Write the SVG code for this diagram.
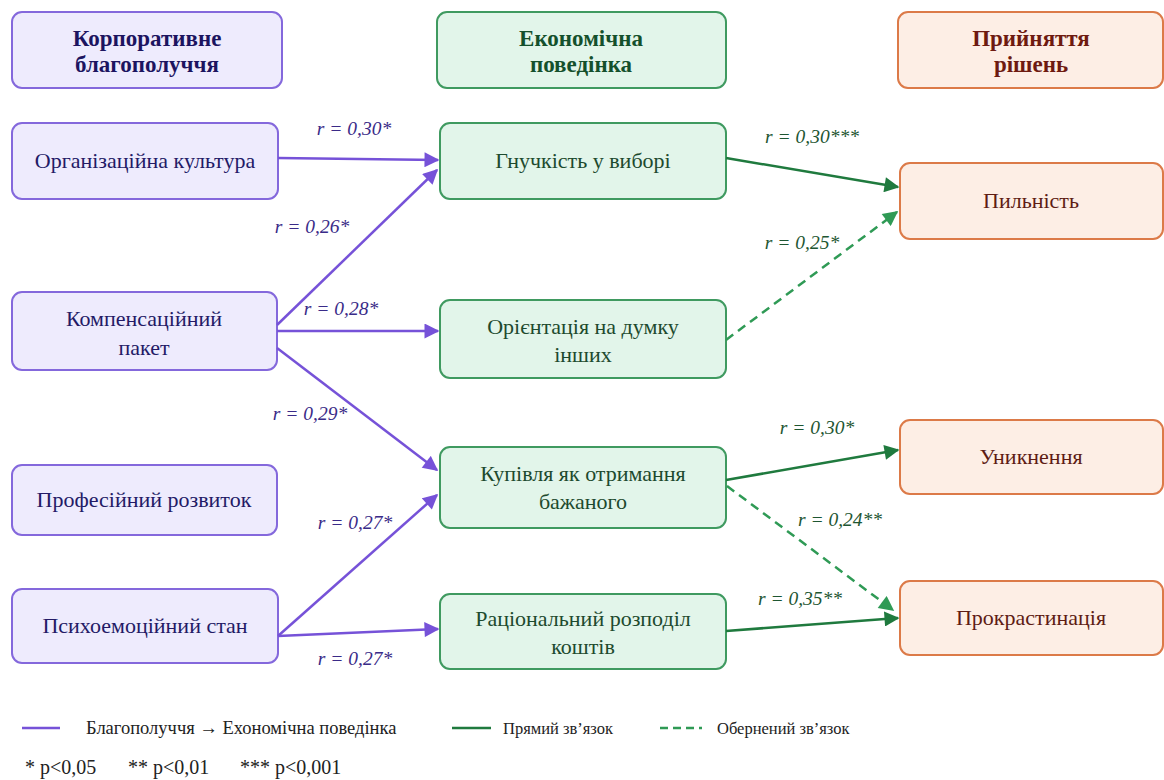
<svg xmlns="http://www.w3.org/2000/svg" width="1164" height="780" viewBox="0 0 1164 780" font-family="'Liberation Serif', 'DejaVu Serif', serif">
  <style>
    text { font-family: "Liberation Serif", "DejaVu Serif", serif; text-anchor: middle; }
    .hdr { font-size: 23px; font-weight: bold; }
    .lbl { font-size: 22px; }
    .r { font-size: 19.5px; font-style: italic; }
    .wb rect { fill: #eeebfd; stroke: #8468dc; stroke-width: 2; }
    .wb text { fill: #231a66; }
    .eb rect { fill: #e2f5ea; stroke: #3f9a60; stroke-width: 2; }
    .eb text { fill: #1d4a2e; }
    .dm rect { fill: #fdeee5; stroke: #dc7a48; stroke-width: 2; }
    .dm text { fill: #5e1c14; }
    .hw text { fill: #1c1460; }
    .he text { fill: #14502c; }
    .hd text { fill: #6e1a10; }
    .pl { stroke: #7652d8; stroke-width: 2.5; fill: none; }
    .gl { stroke: #1f7a3e; stroke-width: 2.5; fill: none; }
    .gd { stroke: #2f9a55; stroke-width: 2.5; fill: none; stroke-dasharray: 9 6; }
    .rp { fill: #3a2b88; }
    .rg { fill: #1e5632; }
    .leg { font-size: 16.5px; fill: #222; text-anchor: start; }
    .leg1 { font-size: 18.5px; }
    .fn { font-size: 20px; fill: #222; text-anchor: start; }
  </style>
  <defs>
    <marker id="ap" viewBox="0 0 10 10" refX="9" refY="5" markerWidth="6.5" markerHeight="6" markerUnits="strokeWidth" orient="auto">
      <path d="M0,0 L10,5 L0,10 Z" fill="#7652d8"/>
    </marker>
    <marker id="ag" viewBox="0 0 10 10" refX="9" refY="5" markerWidth="6.5" markerHeight="6" markerUnits="strokeWidth" orient="auto">
      <path d="M0,0 L10,5 L0,10 Z" fill="#1f7a3e"/>
    </marker>
    <marker id="agd" viewBox="0 0 10 10" refX="9" refY="5" markerWidth="6.5" markerHeight="6" markerUnits="strokeWidth" orient="auto">
      <path d="M0,0 L10,5 L0,10 Z" fill="#2f9a55"/>
    </marker>
  </defs>

  <rect width="1164" height="780" fill="#ffffff"/>

  <!-- Column headers -->
  <g id="hdr-wellbeing" class="wb hw">
    <rect x="12" y="12" width="270" height="76" rx="10"/>
    <text class="hdr" x="147" y="46">Корпоративне</text>
    <text class="hdr" x="147" y="72">благополуччя</text>
  </g>
  <g id="hdr-economic" class="eb he">
    <rect x="437" y="12" width="289" height="76" rx="10"/>
    <text class="hdr" x="581" y="46">Економічна</text>
    <text class="hdr" x="581" y="72">поведінка</text>
  </g>
  <g id="hdr-decision" class="dm hd">
    <rect x="898" y="12" width="265" height="76" rx="10"/>
    <text class="hdr" x="1031" y="46">Прийняття</text>
    <text class="hdr" x="1031" y="72">рішень</text>
  </g>

  <!-- Wellbeing factors -->
  <g id="n-culture" class="wb">
    <rect x="12" y="123" width="266" height="76" rx="10"/>
    <text class="lbl" x="145" y="168">Організаційна культура</text>
  </g>
  <g id="n-compensation" class="wb">
    <rect x="12" y="292" width="265" height="78" rx="10"/>
    <text class="lbl" x="144" y="326">Компенсаційний</text>
    <text class="lbl" x="144" y="355">пакет</text>
  </g>
  <g id="n-development" class="wb">
    <rect x="12" y="465" width="265" height="70" rx="10"/>
    <text class="lbl" x="144" y="507">Професійний розвиток</text>
  </g>
  <g id="n-psycho" class="wb">
    <rect x="12" y="589" width="266" height="74" rx="10"/>
    <text class="lbl" x="145" y="633">Психоемоційний стан</text>
  </g>

  <!-- Economic behaviour -->
  <g id="n-flex" class="eb">
    <rect x="440" y="123" width="286" height="76" rx="10"/>
    <text class="lbl" x="583" y="168">Гнучкість у виборі</text>
  </g>
  <g id="n-orient" class="eb">
    <rect x="440" y="300" width="286" height="78" rx="10"/>
    <text class="lbl" x="583" y="334">Орієнтація на думку</text>
    <text class="lbl" x="583" y="362">інших</text>
  </g>
  <g id="n-purchase" class="eb">
    <rect x="440" y="447" width="286" height="81" rx="10"/>
    <text class="lbl" x="583" y="481">Купівля як отримання</text>
    <text class="lbl" x="583" y="509">бажаного</text>
  </g>
  <g id="n-rational" class="eb">
    <rect x="440" y="594" width="286" height="75" rx="10"/>
    <text class="lbl" x="583" y="626">Раціональний розподіл</text>
    <text class="lbl" x="583" y="654">коштів</text>
  </g>

  <!-- Decision making -->
  <g id="n-vigilance" class="dm">
    <rect x="900" y="163" width="263" height="76" rx="10"/>
    <text class="lbl" x="1031" y="208">Пильність</text>
  </g>
  <g id="n-avoid" class="dm">
    <rect x="900" y="420" width="263" height="74" rx="10"/>
    <text class="lbl" x="1031" y="464">Уникнення</text>
  </g>
  <g id="n-procr" class="dm">
    <rect x="900" y="581" width="263" height="74" rx="10"/>
    <text class="lbl" x="1031" y="625">Прокрастинація</text>
  </g>

  <!-- Connectors -->
  <g id="connectors">
    <line class="pl" x1="278" y1="158" x2="438" y2="160" marker-end="url(#ap)"/>
    <line class="pl" x1="277" y1="325" x2="437" y2="170" marker-end="url(#ap)"/>
    <line class="pl" x1="277" y1="331" x2="438" y2="331" marker-end="url(#ap)"/>
    <line class="pl" x1="277" y1="348" x2="437" y2="470" marker-end="url(#ap)"/>
    <line class="pl" x1="278" y1="636" x2="437" y2="495" marker-end="url(#ap)"/>
    <line class="pl" x1="278" y1="636" x2="438" y2="629" marker-end="url(#ap)"/>

    <line class="gl" x1="726" y1="158" x2="898" y2="187" marker-end="url(#ag)"/>
    <line class="gd" x1="726" y1="340" x2="897" y2="212" marker-end="url(#agd)"/>
    <line class="gl" x1="726" y1="480" x2="898" y2="450" marker-end="url(#ag)"/>
    <line class="gd" x1="727" y1="486" x2="893" y2="610" marker-end="url(#agd)"/>
    <line class="gl" x1="726" y1="631" x2="898" y2="618" marker-end="url(#ag)"/>

    <text class="r rp" x="354" y="135">r = 0,30*</text>
    <text class="r rp" x="312" y="233">r = 0,26*</text>
    <text class="r rp" x="341" y="315">r = 0,28*</text>
    <text class="r rp" x="310" y="420">r = 0,29*</text>
    <text class="r rp" x="355" y="529">r = 0,27*</text>
    <text class="r rp" x="355" y="665">r = 0,27*</text>

    <text class="r rg" x="812" y="143">r = 0,30***</text>
    <text class="r rg" x="802" y="249">r = 0,25*</text>
    <text class="r rg" x="817" y="434">r = 0,30*</text>
    <text class="r rg" x="840" y="526">r = 0,24**</text>
    <text class="r rg" x="800" y="605">r = 0,35**</text>
  </g>

  <!-- Legend -->
  <g id="legend">
    <line x1="22" y1="728" x2="60" y2="728" stroke="#7652d8" stroke-width="2.5"/>
    <text class="leg leg1" x="86" y="734">Благополуччя → Ехономічна поведінка</text>
    <line x1="452" y1="728" x2="491" y2="728" stroke="#1f7a3e" stroke-width="2.5"/>
    <text class="leg" x="503" y="734">Прямий зв’язок</text>
    <line x1="660" y1="728" x2="702" y2="728" stroke="#2f9a55" stroke-width="2.5" stroke-dasharray="8 5"/>
    <text class="leg" x="717" y="734">Обернений зв’язок</text>
    <text class="fn" x="25" y="774">* p&lt;0,05</text>
    <text class="fn" x="128" y="774">** p&lt;0,01</text>
    <text class="fn" x="240" y="774">*** p&lt;0,001</text>
  </g>
</svg>
